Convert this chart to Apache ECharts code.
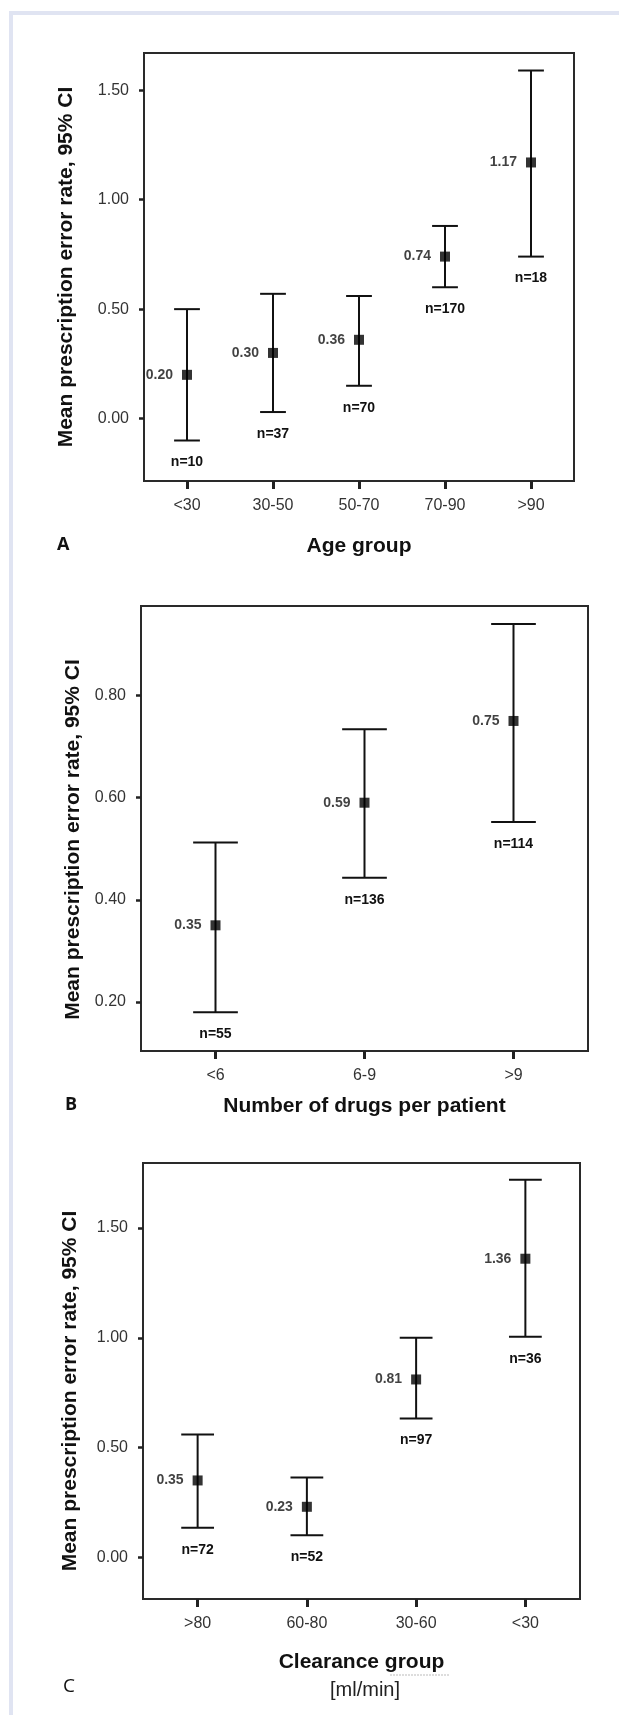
<!DOCTYPE html>
<html>
<head>
<meta charset="utf-8">
<script src="https://cdn.jsdelivr.net/npm/echarts@6/dist/echarts.min.js"></script>
<style>
  html, body { margin: 0; padding: 0; background: #ffffff; }
  #frame { position: absolute; left: 9px; top: 11px; width: 700px; height: 1800px;
           border-left: 4px solid #e0e4f2; border-top: 4px solid #e0e4f2; }
  #chart { position: absolute; left: 0; top: 0; width: 619px; height: 1715px; }
</style>
</head>
<body>
<div id="frame"></div>
<div id="chart"></div>
<script>
// ---- Panel A: Age group ----
const catsA = ['<30', '30-50', '50-70', '70-90', '>90'];
const meanA = [0.20, 0.30, 0.36, 0.74, 1.17];
const lowA  = [-0.10, 0.03, 0.15, 0.60, 0.74];
const highA = [0.50, 0.57, 0.56, 0.88, 1.59];
const nA    = [10, 37, 70, 170, 18];
const ticksA = [0, 0.5, 1.0, 1.5];

// ---- Panel B: Number of drugs per patient ----
const catsB = ['<6', '6-9', '>9'];
const meanB = [0.35, 0.59, 0.75];
const lowB  = [0.18, 0.443, 0.552];
const highB = [0.512, 0.734, 0.94];
const nB    = [55, 136, 114];
const ticksB = [0.2, 0.4, 0.6, 0.8];

// ---- Panel C: Clearance group ----
const catsC = ['>80', '60-80', '30-60', '<30'];
const meanC = [0.35, 0.23, 0.81, 1.36];
const lowC  = [0.135, 0.10, 0.632, 1.005];
const highC = [0.559, 0.363, 1.00, 1.72];
const nC    = [72, 52, 97, 36];
const ticksC = [0, 0.5, 1.0, 1.5];

const yTitle = 'Mean prescription error rate, 95% CI';

const FONT = '"Liberation Sans", Arial, sans-serif';
const INK = '#111';

function errRender(params, api) {
  const x = api.value(0), lo = api.value(1), hi = api.value(2), n = api.value(3);
  const pLo = api.coord([x, lo]);
  const pHi = api.coord([x, hi]);
  const half = api.size([1, 0])[0] * 0.15;
  const st = { stroke: INK, lineWidth: 2 };
  return {
    type: 'group',
    children: [
      { type: 'line', shape: { x1: pHi[0], y1: pHi[1], x2: pLo[0], y2: pLo[1] }, style: st },
      { type: 'line', shape: { x1: pHi[0] - half, y1: pHi[1], x2: pHi[0] + half, y2: pHi[1] }, style: st },
      { type: 'line', shape: { x1: pLo[0] - half, y1: pLo[1], x2: pLo[0] + half, y2: pLo[1] }, style: st },
      { type: 'text', x: pLo[0], y: pLo[1] + 22,
        style: { text: 'n=' + n, textAlign: 'center', textVerticalAlign: 'middle',
                 font: 'bold 14px ' + FONT, fill: INK } }
    ]
  };
}

const grids = [
  { left: 144, top: 53, width: 430, height: 428 },
  { left: 141, top: 606, width: 447, height: 445 },
  { left: 143, top: 1163, width: 437, height: 436 }
];
const yRanges = [[-0.285, 1.67], [0.104, 0.975], [-0.19, 1.796]];

function xAxisOf(idx, cats, name, gap) {
  return {
    type: 'category', gridIndex: idx, data: cats, boundaryGap: true, position: 'bottom',
    axisLine: { show: true, onZero: false, lineStyle: { color: '#2a2a2a', width: 2 } },
    axisTick: { show: true, alignWithLabel: true, length: 8, lineStyle: { color: '#222', width: 3 } },
    axisLabel: { margin: 17, fontSize: 16, color: '#333', fontFamily: FONT },
    splitLine: { show: false },
    name: name, nameLocation: 'middle', nameGap: gap,
    nameTextStyle: { fontSize: 21, fontWeight: 'bold', color: INK, fontFamily: FONT }
  };
}

function yAxisOf(idx, ticks, gap, pad) {
  return {
    type: 'value', gridIndex: idx, min: yRanges[idx][0], max: yRanges[idx][1], position: 'left',
    axisLine: { show: true, onZero: false, lineStyle: { color: '#2a2a2a', width: 2 } },
    axisTick: { show: true, customValues: ticks, length: 5, lineStyle: { color: '#222', width: 2.5 } },
    axisLabel: { customValues: ticks, margin: 15, fontSize: 16, color: '#333', fontFamily: FONT,
                 formatter: v => v.toFixed(2) },
    splitLine: { show: false },
    name: yTitle, nameLocation: 'middle', nameGap: gap,
    nameTextStyle: { fontSize: 21, fontWeight: 'bold', color: INK, fontFamily: FONT, padding: pad }
  };
}

function panelSeries(idx, means, lows, highs, ns) {
  return [
    {
      type: 'custom', xAxisIndex: idx, yAxisIndex: idx, clip: false,
      renderItem: errRender,
      encode: { x: 0, y: [1, 2] },
      data: lows.map((lo, i) => [i, lo, highs[i], ns[i]])
    },
    {
      type: 'scatter', xAxisIndex: idx, yAxisIndex: idx, clip: false,
      symbol: 'rect', symbolSize: 10,
      itemStyle: { color: '#000' },
      label: { show: true, position: 'left', distance: 9,
               formatter: p => p.value[1].toFixed(2),
               fontSize: 14, fontWeight: 'bold', color: INK, fontFamily: FONT },
      data: means.map((m, i) => [i, m])
    }
  ];
}

const chart = echarts.init(document.getElementById('chart'), null, { renderer: 'canvas' });
chart.setOption({
  animation: false,
  backgroundColor: 'transparent',
  grid: grids.map(g => Object.assign({ show: true, borderColor: '#2a2a2a', borderWidth: 2,
                                       backgroundColor: 'transparent', containLabel: false }, g)),
  xAxis: [
    xAxisOf(0, catsA, 'Age group', 55),
    xAxisOf(1, catsB, 'Number of drugs per patient', 45),
    xAxisOf(2, catsC, 'Clearance group', 53)
  ],
  yAxis: [
    yAxisOf(0, ticksA, 67, [0, 0, 0, 0]),
    yAxisOf(1, ticksB, 57, [0, 22, 0, 0]),
    yAxisOf(2, ticksC, 62, [0, 20, 0, 0])
  ],
  series: [].concat(
    panelSeries(0, meanA, lowA, highA, nA),
    panelSeries(1, meanB, lowB, highB, nB),
    panelSeries(2, meanC, lowC, highC, nC)
  ),
  graphic: [
    { type: 'text', left: 57, top: 536, style: { text: 'A', font: 'bold 18px "Open Sans", sans-serif', fill: INK } },
    { type: 'text', left: 65, top: 1096, style: { text: 'B', font: 'bold 18px "Open Sans", sans-serif', fill: INK } },
    { type: 'text', left: 63, top: 1677, style: { text: 'C', font: '19px "Open Sans", sans-serif', fill: INK } },
    { type: 'text', x: 365, y: 1690,
      style: { text: '[ml/min]', textAlign: 'center', textVerticalAlign: 'middle',
               font: '20px ' + FONT, fill: '#222' } },
    { type: 'line', shape: { x1: 390, y1: 1675, x2: 450, y2: 1675 },
      style: { stroke: '#bbbbbb', lineWidth: 1, lineDash: [2, 1] } }
  ]
});
</script>
</body>
</html>
